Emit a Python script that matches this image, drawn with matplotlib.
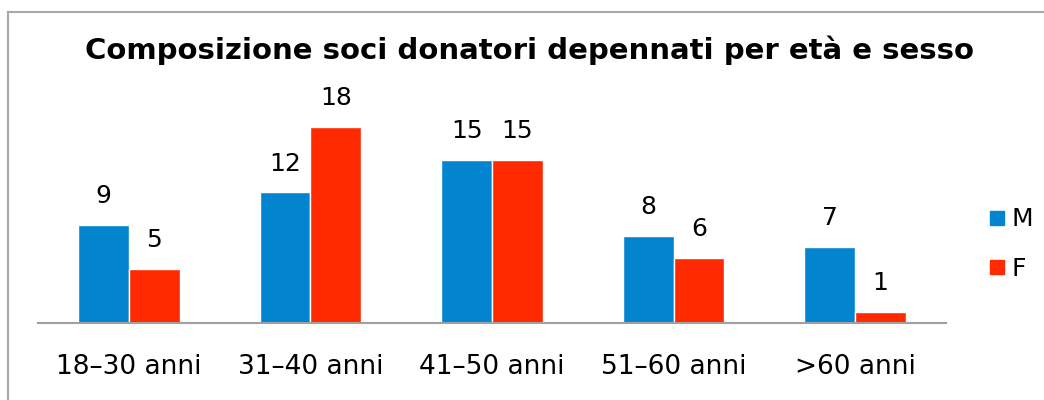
import matplotlib
matplotlib.use('Agg')
import matplotlib.pyplot as plt
from matplotlib.lines import Line2D
import numpy as np

# data
categories = ['18–30 anni', '31–40 anni', '41–50 anni', '51–60 anni', '>60 anni']
males = [9, 12, 15, 8, 7]
females = [5, 18, 15, 6, 1]

BLUE = '#0384CE'
RED = '#FF2A00'

fig = plt.figure(figsize=(10.44, 4), dpi=100)
ax = fig.add_axes([38/1044, 77/400, 908/1044, 218/400])

x = np.arange(len(categories))
w = 0.28
bm = ax.bar(x - w/2, males, w, color=BLUE, edgecolor='white', linewidth=1)
bf = ax.bar(x + w/2, females, w, color=RED, edgecolor='white', linewidth=1)

for bars, vals in ((bm, males), (bf, females)):
    for b, v in zip(bars, vals):
        ax.annotate(str(v), (b.get_x() + b.get_width()/2, v),
                    xytext=(0, 12), textcoords='offset points',
                    ha='center', va='bottom', fontsize=18)

ax.set_xlim(-0.5, len(categories) - 0.5)
ax.set_ylim(0, 20)
ax.set_xticks(x)
ax.set_xticklabels(categories, fontsize=19)
ax.tick_params(axis='x', length=0, pad=22)
ax.set_yticks([])
for s in ('top', 'right', 'left'):
    ax.spines[s].set_visible(False)
ax.spines['bottom'].set_color('#A0A0A0')
ax.spines['bottom'].set_linewidth(1.5)

fig.text(0.507, 0.875, 'Composizione soci donatori depennati per età e sesso',
         ha='center', va='center', fontsize=21, fontweight='bold')

handles = [Line2D([], [], marker='s', linestyle='', color=BLUE, markersize=10),
           Line2D([], [], marker='s', linestyle='', color=RED, markersize=10)]
fig.legend(handles, ['M', 'F'], loc='center left', bbox_to_anchor=(0.921, 0.39),
           frameon=False, fontsize=18, handletextpad=0.1, labelspacing=1.0,
           handlelength=1.0)

# partial frame like the original (left and top border only)
fig.add_artist(Line2D([8/1044, 8/1044], [0, 1 - 12/400], color='#A8A8A8', lw=1.5))
fig.add_artist(Line2D([8/1044, 1], [1 - 12/400, 1 - 12/400], color='#A8A8A8', lw=1.5))

fig.savefig('out.png', dpi=100)
